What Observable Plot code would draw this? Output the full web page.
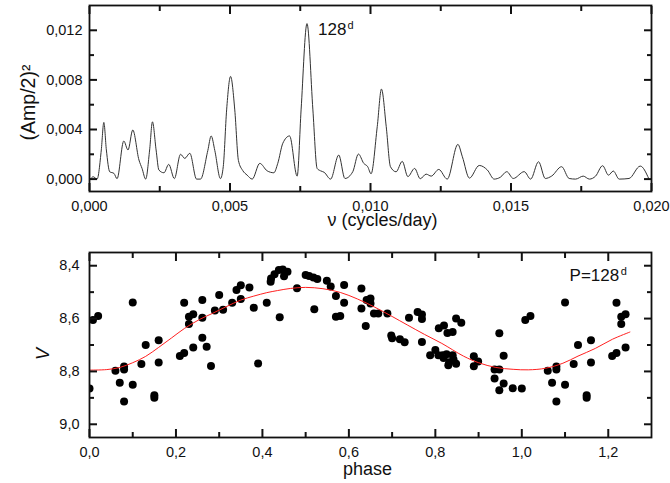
<!DOCTYPE html>
<html><head><meta charset="utf-8">
<script src="https://cdn.jsdelivr.net/npm/d3@7"></script>
<script src="https://cdn.jsdelivr.net/npm/@observablehq/plot@0.6"></script>
<style>
body{margin:0;background:#fff;}
#chart svg{display:block;}
</style></head><body><div id="chart"></div>
<script>
// ---- periodogram (top panel) ----
const freq = [0.00004,0.00013,0.00027,0.00042,0.00051,0.00060,0.00072,0.00087,0.00098,0.00122,0.00137,0.00154,0.00176,0.00187,0.00200,0.00214,0.00224,0.00237,0.00247,0.00265,0.00282,0.00302,0.00324,0.00339,0.00357,0.00381,0.00395,0.00421,0.00433,0.00446,0.00466,0.00476,0.00488,0.00502,0.00517,0.00530,0.00545,0.00561,0.00579,0.00606,0.00632,0.00656,0.00670,0.00688,0.00712,0.00739,0.00753,0.00774,0.00795,0.00810,0.00822,0.00835,0.00858,0.00887,0.00909,0.00937,0.00957,0.00976,0.00990,0.01002,0.01024,0.01039,0.01056,0.01071,0.01091,0.01113,0.01133,0.01157,0.01177,0.01198,0.01216,0.01243,0.01273,0.01311,0.01327,0.01352,0.01387,0.01416,0.01440,0.01462,0.01485,0.01508,0.01547,0.01570,0.01598,0.01622,0.01645,0.01680,0.01707,0.01730,0.01757,0.01779,0.01801,0.01826,0.01847,0.01864,0.01885,0.01920,0.01960,0.01990];
const power = [0.00002,0.00019,0.00000,0.00235,0.00457,0.00235,0.00059,0.00046,0.00003,0.00307,0.00235,0.00396,0.00154,0.00086,0.00000,0.00235,0.00462,0.00235,0.00073,0.00051,0.00119,0.00004,0.00200,0.00167,0.00208,0.00000,0.00000,0.00230,0.00348,0.00230,0.00004,0.00100,0.00558,0.00828,0.00558,0.00150,0.00070,0.00032,0.00000,0.00127,0.00067,0.00051,0.00127,0.00289,0.00348,0.00024,0.00558,0.01254,0.00558,0.00086,0.00067,0.00055,0.00000,0.00194,0.00005,0.00060,0.00202,0.00127,0.00100,0.00043,0.00423,0.00726,0.00423,0.00100,0.00059,0.00143,0.00020,0.00086,0.00003,0.00040,0.00024,0.00078,0.00000,0.00280,0.00180,0.00008,0.00110,0.00073,0.00000,0.00015,0.00060,0.00005,0.00060,0.00000,0.00140,0.00005,0.00025,0.00100,0.00005,0.00000,0.00024,0.00000,0.00024,0.00108,0.00032,0.00065,0.00000,0.00005,0.00105,0.00005];
const xDomTop = [0, 0.02];
const yDomTop = [-0.001, 0.014];
const xTicksTop = [0, 0.005, 0.010, 0.015, 0.020];
const xMinorTop = [0.0025, 0.0075, 0.0125, 0.0175];
const yTicksTop = [0, 0.004, 0.008, 0.012];
const yMinorTop = [0.002, 0.006, 0.010];

// ---- phase diagram (bottom panel), phases 0..1 ----
const phase = [0.000,0.008,0.020,0.060,0.070,0.080,0.080,0.080,0.100,0.100,0.120,0.130,0.150,0.150,0.160,0.160,0.209,0.219,0.219,0.230,0.230,0.240,0.240,0.261,0.261,0.261,0.271,0.281,0.290,0.300,0.309,0.330,0.340,0.350,0.350,0.370,0.380,0.390,0.410,0.419,0.420,0.428,0.438,0.440,0.447,0.450,0.458,0.480,0.500,0.508,0.518,0.520,0.527,0.549,0.558,0.570,0.570,0.580,0.589,0.589,0.629,0.629,0.639,0.641,0.650,0.650,0.658,0.668,0.689,0.698,0.700,0.718,0.729,0.739,0.759,0.769,0.769,0.769,0.788,0.800,0.807,0.808,0.817,0.819,0.820,0.826,0.828,0.830,0.832,0.840,0.840,0.842,0.848,0.848,0.860,0.889,0.889,0.899,0.937,0.937,0.948,0.948,0.948,0.958,0.958,0.979];
const mag = [8.865,8.605,8.590,8.797,8.843,8.781,8.793,8.914,8.539,8.850,8.772,8.700,8.890,8.900,8.682,8.766,8.742,8.730,8.540,8.593,8.621,8.584,8.709,8.530,8.597,8.673,8.707,8.779,8.569,8.511,8.567,8.540,8.492,8.474,8.526,8.482,8.559,8.770,8.540,8.461,8.448,8.432,8.416,8.595,8.414,8.440,8.423,8.485,8.435,8.439,8.445,8.565,8.450,8.457,8.479,8.515,8.593,8.590,8.473,8.540,8.486,8.562,8.628,8.530,8.524,8.543,8.581,8.581,8.581,8.664,8.674,8.678,8.690,8.597,8.575,8.585,8.602,8.689,8.739,8.719,8.739,8.637,8.739,8.749,8.626,8.735,8.655,8.777,8.765,8.651,8.739,8.755,8.771,8.600,8.616,8.743,8.780,8.762,8.793,8.827,8.793,8.656,8.871,8.741,8.846,8.864];
const fitPhase = [0.00,0.04,0.07,0.10,0.13,0.16,0.19,0.22,0.255,0.285,0.315,0.35,0.38,0.41,0.435,0.465,0.50,0.54,0.58,0.62,0.66,0.70,0.735,0.775,0.815,0.865,0.90,0.94,0.98,1.015,1.055,1.095,1.13,1.17,1.21,1.25];
const fitMag = [8.795,8.793,8.785,8.767,8.743,8.709,8.673,8.637,8.603,8.580,8.556,8.530,8.515,8.502,8.494,8.486,8.482,8.487,8.501,8.526,8.557,8.592,8.624,8.660,8.694,8.742,8.767,8.785,8.792,8.794,8.788,8.769,8.742,8.713,8.678,8.651];
const xDomBot = [0, 1.3];
const yDomBot = [8.35, 9.05];
const xTicksBot = [0, 0.2, 0.4, 0.6, 0.8, 1.0, 1.2];
const xMinorBot = [0.1, 0.3, 0.5, 0.7, 0.9, 1.1];
const yTicksBot = [8.4, 8.6, 8.8, 9.0];
const yMinorBot = [8.5, 8.7, 8.9];

const FONT = "'Liberation Sans', Arial, Helvetica, sans-serif";
const comma = n => d => d.toFixed(n).replace(".", ",");
const INK = "#111";
const W = 670;

// inward-pointing ticks on all four sides of the frame (negative tick size)
function frameTicks(xMaj, xMin, yMaj, yMin) {
  const o = {stroke: INK, strokeWidth: 2, fill: "none", label: null};
  return [
    Plot.axisX(xMaj, {...o, anchor: "bottom", tickSize: -8}),
    Plot.axisX(xMin, {...o, anchor: "bottom", tickSize: -5}),
    Plot.axisX(xMaj, {...o, anchor: "top", tickSize: -8}),
    Plot.axisX(xMin, {...o, anchor: "top", tickSize: -5}),
    Plot.axisY(yMaj, {...o, anchor: "left", tickSize: -8}),
    Plot.axisY(yMin, {...o, anchor: "left", tickSize: -5}),
    Plot.axisY(yMaj, {...o, anchor: "right", tickSize: -8}),
    Plot.axisY(yMin, {...o, anchor: "right", tickSize: -5})
  ];
}

const spec = freq.map((f, i) => ({f, p: power[i]}));
const peak = spec.reduce((a, b) => (b.p > a.p ? b : a));

const topChart = Plot.plot({
  width: W, height: 240,
  marginLeft: 89, marginRight: 19, marginTop: 5, marginBottom: 49,
  style: {fontFamily: FONT, fontSize: "15px", color: INK, background: "white"},
  x: {domain: xDomTop, label: null},
  y: {domain: yDomTop, label: null},
  marks: [
    Plot.line(spec, {x: "f", y: "p", curve: "monotone-x", stroke: "#333", strokeWidth: 1}),
    Plot.frame({stroke: INK, strokeWidth: 1.8}),
    ...frameTicks(xTicksTop, xMinorTop, yTicksTop, yMinorTop),
    Plot.axisX(xTicksTop, {anchor: "bottom", tickSize: 0, tickPadding: 9, tickFormat: comma(3), label: null, fontSize: 14.5}),
    Plot.axisY(yTicksTop, {anchor: "left", tickSize: 0, tickPadding: 7, tickFormat: comma(3), label: null, fontSize: 14.5}),
    Plot.text([peak], {x: "f", y: "p", text: () => "128", dx: 11, dy: 11, textAnchor: "start", lineAnchor: "bottom", fontSize: 17}),
    Plot.text([peak], {x: "f", y: "p", text: () => "d", dx: 40.5, dy: 5.2, textAnchor: "start", lineAnchor: "bottom", fontSize: 11}),
    Plot.text(["ν (cycles/day)"], {text: d => d, frameAnchor: "bottom", dx: 12, dy: 34.5, textAnchor: "middle", lineAnchor: "bottom", fontSize: 18}),
    Plot.text(["(Amp/2)²"], {text: d => d, frameAnchor: "left", dx: -61, dy: 4, rotate: -90, textAnchor: "middle", lineAnchor: "middle", fontSize: 19.5})
  ]
});

const pts = phase.map((ph, i) => ({ph, v: mag[i]}));
const ptsAll = pts.concat(pts.filter(d => d.ph < 0.25).map(d => ({ph: d.ph + 1, v: d.v})));
const fit = fitPhase.map((ph, i) => ({ph, v: fitMag[i]}));

const bottomChart = Plot.plot({
  width: W, height: 243,
  marginLeft: 89, marginRight: 19, marginTop: 12, marginBottom: 46,
  style: {fontFamily: FONT, fontSize: "15px", color: INK, background: "white"},
  x: {domain: xDomBot, label: null},
  y: {domain: yDomBot, reverse: true, label: null},
  marks: [
    Plot.dot(ptsAll, {x: "ph", y: "v", r: 4, fill: "black", stroke: "none", clip: true}),
    Plot.line(fit, {x: "ph", y: "v", curve: "catmull-rom", stroke: "#ff2020", strokeWidth: 1}),
    Plot.frame({stroke: INK, strokeWidth: 1.8}),
    ...frameTicks(xTicksBot, xMinorBot, yTicksBot, yMinorBot),
    Plot.axisX(xTicksBot, {anchor: "bottom", tickSize: 0, tickPadding: 9, tickFormat: comma(1), label: null, fontSize: 14.5}),
    Plot.axisY(yTicksBot, {anchor: "left", tickSize: 0, tickPadding: 10, tickFormat: comma(1), label: null, fontSize: 14.5}),
    Plot.text(["P=128"], {text: d => d, frameAnchor: "top-right", dx: -32.3, dy: 28.4, textAnchor: "end", lineAnchor: "bottom", fontSize: 17}),
    Plot.text(["d"], {text: d => d, frameAnchor: "top-right", dx: -30.7, dy: 22.7, textAnchor: "start", lineAnchor: "bottom", fontSize: 11}),
    Plot.text(["phase"], {text: d => d, frameAnchor: "bottom", dx: -3, dy: 37.5, textAnchor: "middle", lineAnchor: "bottom", fontSize: 18}),
    Plot.text(["V"], {text: d => d, frameAnchor: "left", dx: -46.5, dy: 9, rotate: -90, textAnchor: "middle", lineAnchor: "middle", fontSize: 18, fontStyle: "italic"})
  ]
});

const root = document.getElementById("chart");
root.appendChild(topChart);
root.appendChild(bottomChart);
</script>
</body></html>
